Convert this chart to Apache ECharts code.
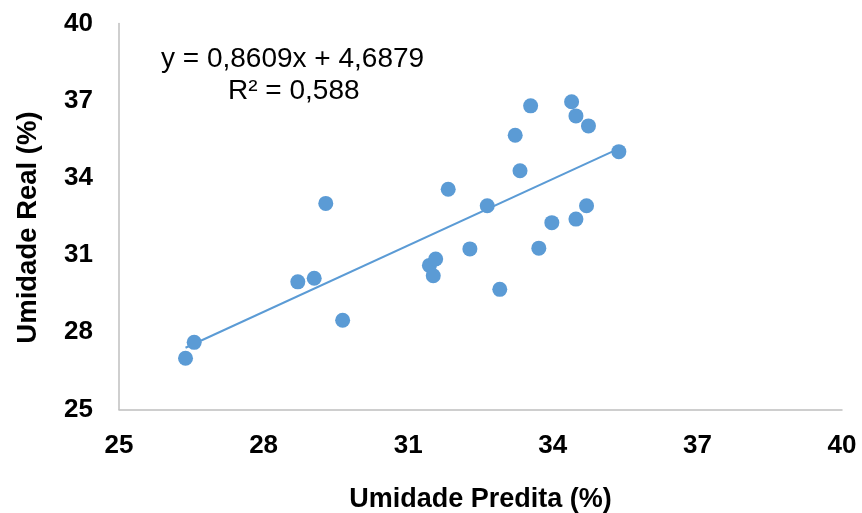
<!DOCTYPE html>
<html>
<head>
<meta charset="utf-8">
<script src="https://cdn.jsdelivr.net/npm/echarts@6/dist/echarts.min.js"></script>
<style>
html,body{margin:0;padding:0;background:#fff;}
#c{width:862px;height:513px;}
</style>
</head>
<body>
<div id="c"></div>
<script>
// Data
var predita = [26.38, 26.56, 28.71, 29.05, 29.29, 29.64, 31.44, 31.57, 31.52, 31.83, 32.28, 32.64, 32.90, 33.22, 33.32, 33.54, 33.71, 33.98, 34.39, 34.48, 34.48, 34.70, 34.74, 35.37];
var real    = [26.99, 27.61, 29.96, 30.10, 33.01, 28.47, 30.60, 30.85, 30.20, 33.56, 31.24, 32.92, 29.67, 35.66, 34.28, 36.80, 31.27, 32.26, 36.96, 36.41, 32.40, 32.92, 36.02, 35.02];
var axisTicks = [25, 28, 31, 34, 37, 40];
var trendSlope = 0.8609;
var trendIntercept = 4.6879;
var equationText = 'y = 0,8609x + 4,6879';
var r2Text = 'R² = 0,588';
var xTitle = 'Umidade Predita (%)';
var yTitle = 'Umidade Real (%)';

var points = predita.map(function (x, i) { return [x, real[i]]; });
var xMin = Math.min.apply(null, predita), xMax = Math.max.apply(null, predita);
var trend = [[xMin, trendSlope * xMin + trendIntercept], [xMax, trendSlope * xMax + trendIntercept]];

var chart = echarts.init(document.getElementById('c'), null, {renderer: 'canvas'});
var font = 'Liberation Sans, Arial, sans-serif';
var axisCommon = {
  type: 'value',
  min: axisTicks[0],
  max: axisTicks[axisTicks.length - 1],
  interval: axisTicks[1] - axisTicks[0],
  axisLine: {show: true, lineStyle: {color: '#BFBFBF', width: 1.5}},
  axisTick: {show: false},
  splitLine: {show: false},
  axisLabel: {color: '#000', fontFamily: font, fontWeight: 'bold', fontSize: 26},
  nameLocation: 'middle',
  nameTextStyle: {color: '#000', fontFamily: font, fontWeight: 'bold', fontSize: 27}
};
chart.setOption({
  animation: false,
  backgroundColor: '#fff',
  grid: {left: 119, right: 20, top: 23.5, bottom: 103.5, containLabel: false, outerBoundsMode: 'none'},
  xAxis: Object.assign({}, axisCommon, {
    name: xTitle, nameGap: 77,
    axisLabel: Object.assign({}, axisCommon.axisLabel, {margin: 23})
  }),
  yAxis: Object.assign({}, axisCommon, {
    name: yTitle, nameGap: 77,
    nameTextStyle: Object.assign({}, axisCommon.nameTextStyle, {fontSize: 27.5, padding: [0, 22, 0, 0]}),
    axisLabel: Object.assign({}, axisCommon.axisLabel, {margin: 26})
  }),
  graphic: [
    {type: 'text', left: 161, top: 45, style: {text: equationText, font: '28px ' + font, fill: '#000'}},
    {type: 'text', left: 228, top: 77, style: {text: r2Text, font: '28px ' + font, fill: '#000'}}
  ],
  series: [
    {
      type: 'line', data: trend, symbol: 'none', silent: true,
      lineStyle: {color: '#5B9BD5', width: 2}, z: 1
    },
    {
      type: 'scatter', data: points, symbol: 'circle', symbolSize: 15,
      itemStyle: {color: '#5B9BD5', opacity: 1}, z: 2
    }
  ]
});
</script>
</body>
</html>
